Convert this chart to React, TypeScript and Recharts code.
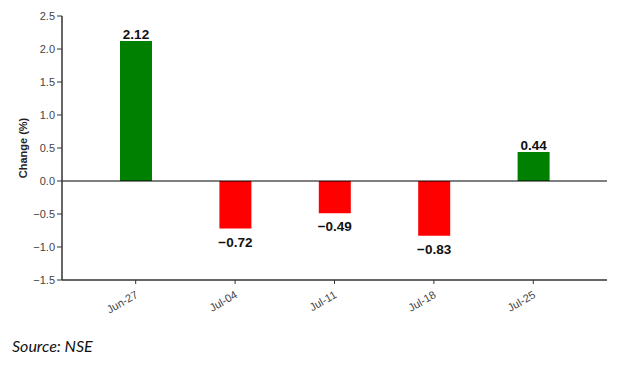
import { BarChart, Bar, XAxis, YAxis, Cell, ReferenceLine, LabelList } from "recharts";

const weeks = ["Jun-27", "Jul-04", "Jul-11", "Jul-18", "Jul-25"];
const change = [2.12, -0.72, -0.49, -0.83, 0.44];
const yTicks = [-1.5, -1.0, -0.5, 0.0, 0.5, 1.0, 1.5, 2.0, 2.5];

const data = weeks.map((week, i) => ({ week, change: change[i] }));

const fmt = (v: number) => v.toFixed(1).replace("-", "\u2212");
const fmt2 = (v: number) => v.toFixed(2).replace("-", "\u2212");

function XTick(props: any) {
  const { x, y, payload } = props;
  return (
    <g transform={`translate(${x + 3},${y + 11})`}>
      <text textAnchor="end" transform="rotate(-30)" fontSize={11} fill="#444" fontFamily="Liberation Sans, Arial, sans-serif">
        {payload.value}
      </text>
    </g>
  );
}

function ValueLabel(props: any) {
  const { x, y, width, height, value } = props;
  const top = Math.min(y, y + height);
  const bottom = Math.max(y, y + height);
  const cx = x + width / 2;
  const ty = value >= 0 ? top - 2 : bottom + 18;
  return (
    <text x={cx} y={ty} textAnchor="middle" fontSize={13.5} fontWeight="bold" fill="#111" fontFamily="Liberation Sans, Arial, sans-serif">
      {fmt2(value)}
    </text>
  );
}

function YLabel(props: any) {
  const { viewBox } = props;
  const cx = viewBox.x + 23;
  const cy = viewBox.y + viewBox.height / 2;
  return (
    <text x={cx} y={cy} transform={`rotate(-90,${cx},${cy})`} textAnchor="middle" dominantBaseline="central" fontSize={11} fontWeight="bold" fill="#222" fontFamily="Liberation Sans, Arial, sans-serif">
      Change (%)
    </text>
  );
}

export default function App() {
  return (
    <div style={{ position: "absolute", left: 0, top: 0, width: 621, height: 367, background: "#fff" }}>
      <BarChart width={621} height={320} data={data} margin={{ top: 16, right: 14, left: 0, bottom: 0 }}>
        <XAxis
          dataKey="week"
          height={40}
          padding={{ left: 24, right: 24 }}
          tick={<XTick />}
          tickSize={4}
          axisLine={{ stroke: "#333", strokeWidth: 1.5 }}
          tickLine={{ stroke: "#333" }}
          interval={0}
        />
        <YAxis
          width={62}
          domain={[-1.5, 2.5]}
          ticks={yTicks}
          tickFormatter={fmt}
          tickSize={5}
          tick={{ fontSize: 11, fill: "#444", fontFamily: "Liberation Sans, Arial, sans-serif" }}
          axisLine={{ stroke: "#333", strokeWidth: 1.5 }}
          tickLine={{ stroke: "#333" }}
          label={<YLabel />}
        />
        <ReferenceLine y={0} stroke="#000" strokeWidth={1} />
        <Bar dataKey="change" barSize={32} isAnimationActive={false}>
          {data.map((d, i) => (
            <Cell key={i} fill={d.change >= 0 ? "#008000" : "#ff0000"} />
          ))}
          <LabelList dataKey="change" content={<ValueLabel />} />
        </Bar>
      </BarChart>
      <div style={{ position: "absolute", left: 12, top: 336, fontFamily: "Lato, sans-serif", fontStyle: "italic", fontSize: 16, color: "#111" }}>
        Source: NSE
      </div>
    </div>
  );
}
